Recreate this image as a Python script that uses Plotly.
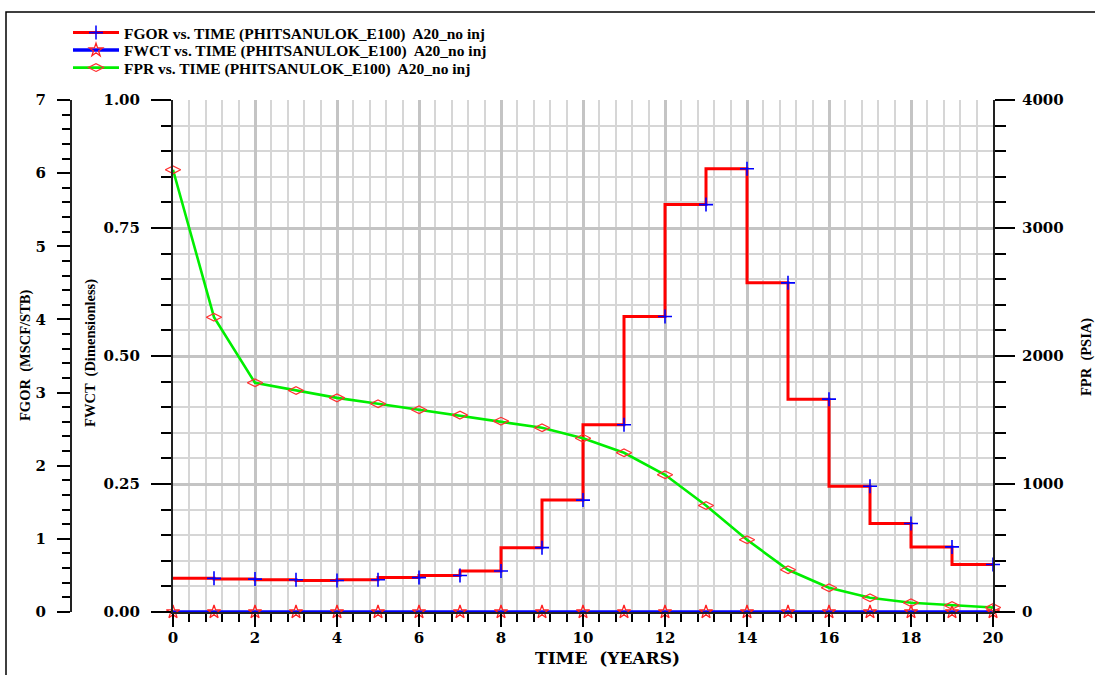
import plotly.graph_objects as go

# ---- data -------------------------------------------------------------
years = list(range(0, 21))
fgor = [0.46, 0.46, 0.45, 0.44, 0.43, 0.44, 0.47, 0.50, 0.56, 0.88, 1.53,
        2.56, 4.04, 5.57, 6.06, 4.50, 2.91, 1.72, 1.21, 0.89, 0.65]
fwct = [0.0] * 21
fpr = [3455, 2303, 1791, 1730, 1673, 1627, 1580, 1538, 1491, 1439, 1358,
       1244, 1072, 832, 564, 330, 189, 111, 72, 51, 35]

names = [
    "FGOR vs. TIME (PHITSANULOK_E100)  A20_no inj",
    "FWCT vs. TIME (PHITSANULOK_E100)  A20_no inj",
    "FPR vs. TIME (PHITSANULOK_E100)  A20_no inj",
]

# ---- layout geometry (pixels) -------------------------------------------
W, H = 1095, 675
ML, MR, MT, MB = 71, 102, 100, 63
PW, PH = W - ML - MR, H - MT - MB
X_START = (173 - ML) / PW


def px(x):
    return (x - ML) / PW


def py(y):
    return (H - MB - y) / PH


SERIF = "Liberation Serif, Times New Roman, serif"
WIDE_SERIF = "DejaVu Serif, serif"
TICK_FONT = dict(family=WIDE_SERIF, size=15, color="black", weight="bold")
LEGEND_FONT = dict(family=SERIF, size=15.5, color="black", weight="bold")

fig = go.Figure()

fig.add_trace(go.Scatter(
    x=years, y=fgor, name=names[0], yaxis="y2", mode="lines+markers",
    legend="legend",
    line=dict(color="#ff0000", width=3, shape="vh"),
    marker=dict(symbol="cross-thin", size=10, color="#0000ff",
                line=dict(color="#0000ff", width=1.6),
                opacity=[0] + [1] * 20),
    cliponaxis=False,
))
fig.add_trace(go.Scatter(
    x=years, y=fwct, name=names[1], yaxis="y", mode="lines+markers",
    legend="legend2",
    line=dict(color="#0000ff", width=3.5),
    marker=dict(symbol="star-open", size=10, color="#ff2020",
                line=dict(color="#ff2020", width=1.3)),
    cliponaxis=False,
))
fig.add_trace(go.Scatter(
    x=years, y=fpr, name=names[2], yaxis="y3", mode="lines+markers",
    legend="legend3",
    line=dict(color="#00ee00", width=2.6),
    marker=dict(symbol="diamond-wide-open", size=11, color="#ff3030",
                line=dict(color="#ff3030", width=1.2)),
    cliponaxis=False,
))

axis_common = dict(
    showline=True, linecolor="#222222", linewidth=2,
    ticks="outside", tickcolor="black", tickwidth=2,
    tickfont=TICK_FONT, zeroline=False,
)


def legend_at(y_px):
    return dict(
        x=px(68), y=py(y_px), xanchor="left", yanchor="middle",
        font=LEGEND_FONT, bgcolor="rgba(0,0,0,0)", itemwidth=46,
        borderwidth=0,
    )


fig.update_layout(
    width=W, height=H,
    margin=dict(l=ML, r=MR, t=MT, b=MB),
    paper_bgcolor="white", plot_bgcolor="white",
    showlegend=True,
    legend=legend_at(33),
    legend2=legend_at(50.5),
    legend3=legend_at(68),
    xaxis=dict(
        domain=[X_START, 1], range=[0, 20], tick0=0, dtick=2,
        showgrid=True, gridcolor="#c4c4c4", gridwidth=2.5,
        ticklen=13, ticklabelstandoff=-2,
        minor=dict(dtick=0.4, tick0=0, showgrid=True, gridcolor="#d6d6d6",
                   gridwidth=2, ticks="outside", ticklen=8,
                   tickcolor="black", tickwidth=1.5),
        **axis_common,
    ),
    yaxis=dict(
        range=[0, 1], tick0=0, dtick=0.25, tickformat=".2f",
        anchor="x", side="left",
        showgrid=True, gridcolor="#c4c4c4", gridwidth=2.5,
        ticklen=20, ticklabelstandoff=8,
        minor=dict(dtick=0.05, tick0=0, showgrid=True, gridcolor="#d6d6d6",
                   gridwidth=2, ticks="outside", ticklen=10,
                   tickcolor="black", tickwidth=1.5),
        **axis_common,
    ),
    yaxis2=dict(
        range=[0, 7], tick0=0, dtick=1, overlaying="y", anchor="free",
        position=0, side="left", showgrid=False,
        ticklen=13, ticklabelstandoff=8,
        minor=dict(dtick=0.2, tick0=0, showgrid=False, ticks="outside",
                   ticklen=8, tickcolor="black", tickwidth=1.5),
        **axis_common,
    ),
    yaxis3=dict(
        range=[0, 4000], tick0=0, dtick=1000, overlaying="y", anchor="x",
        side="right", showgrid=False,
        ticklen=20, ticklabelstandoff=4,
        minor=dict(dtick=200, tick0=0, showgrid=False, ticks="outside",
                   ticklen=11, tickcolor="black", tickwidth=1.5),
        **axis_common,
    ),
)

# axis titles
title_font = dict(family=SERIF, size=14.5, color="black", weight="bold")
for text, x, y, ang, font in [
    ("FGOR  (MSCF/STB)", px(25), 0.5, -90, title_font),
    ("FWCT  (Dimensionless)", px(91), 0.506, -90, title_font),
    ("FPR  (PSIA)", px(1086), 0.498, -90, title_font),
    ("TIME  (YEARS)", px(607), py(658), 0,
     dict(family=WIDE_SERIF, size=17, color="black", weight="bold")),
]:
    fig.add_annotation(text=text, x=x, y=y, xref="paper", yref="paper",
                       showarrow=False, textangle=ang, font=font,
                       xanchor="center", yanchor="middle")

# outer frame
fig.add_shape(type="rect", xref="paper", yref="paper",
              x0=px(6), x1=px(1110), y0=py(690), y1=py(12),
              line=dict(color="black", width=1.5), layer="above")

fig.write_html("out.html")
